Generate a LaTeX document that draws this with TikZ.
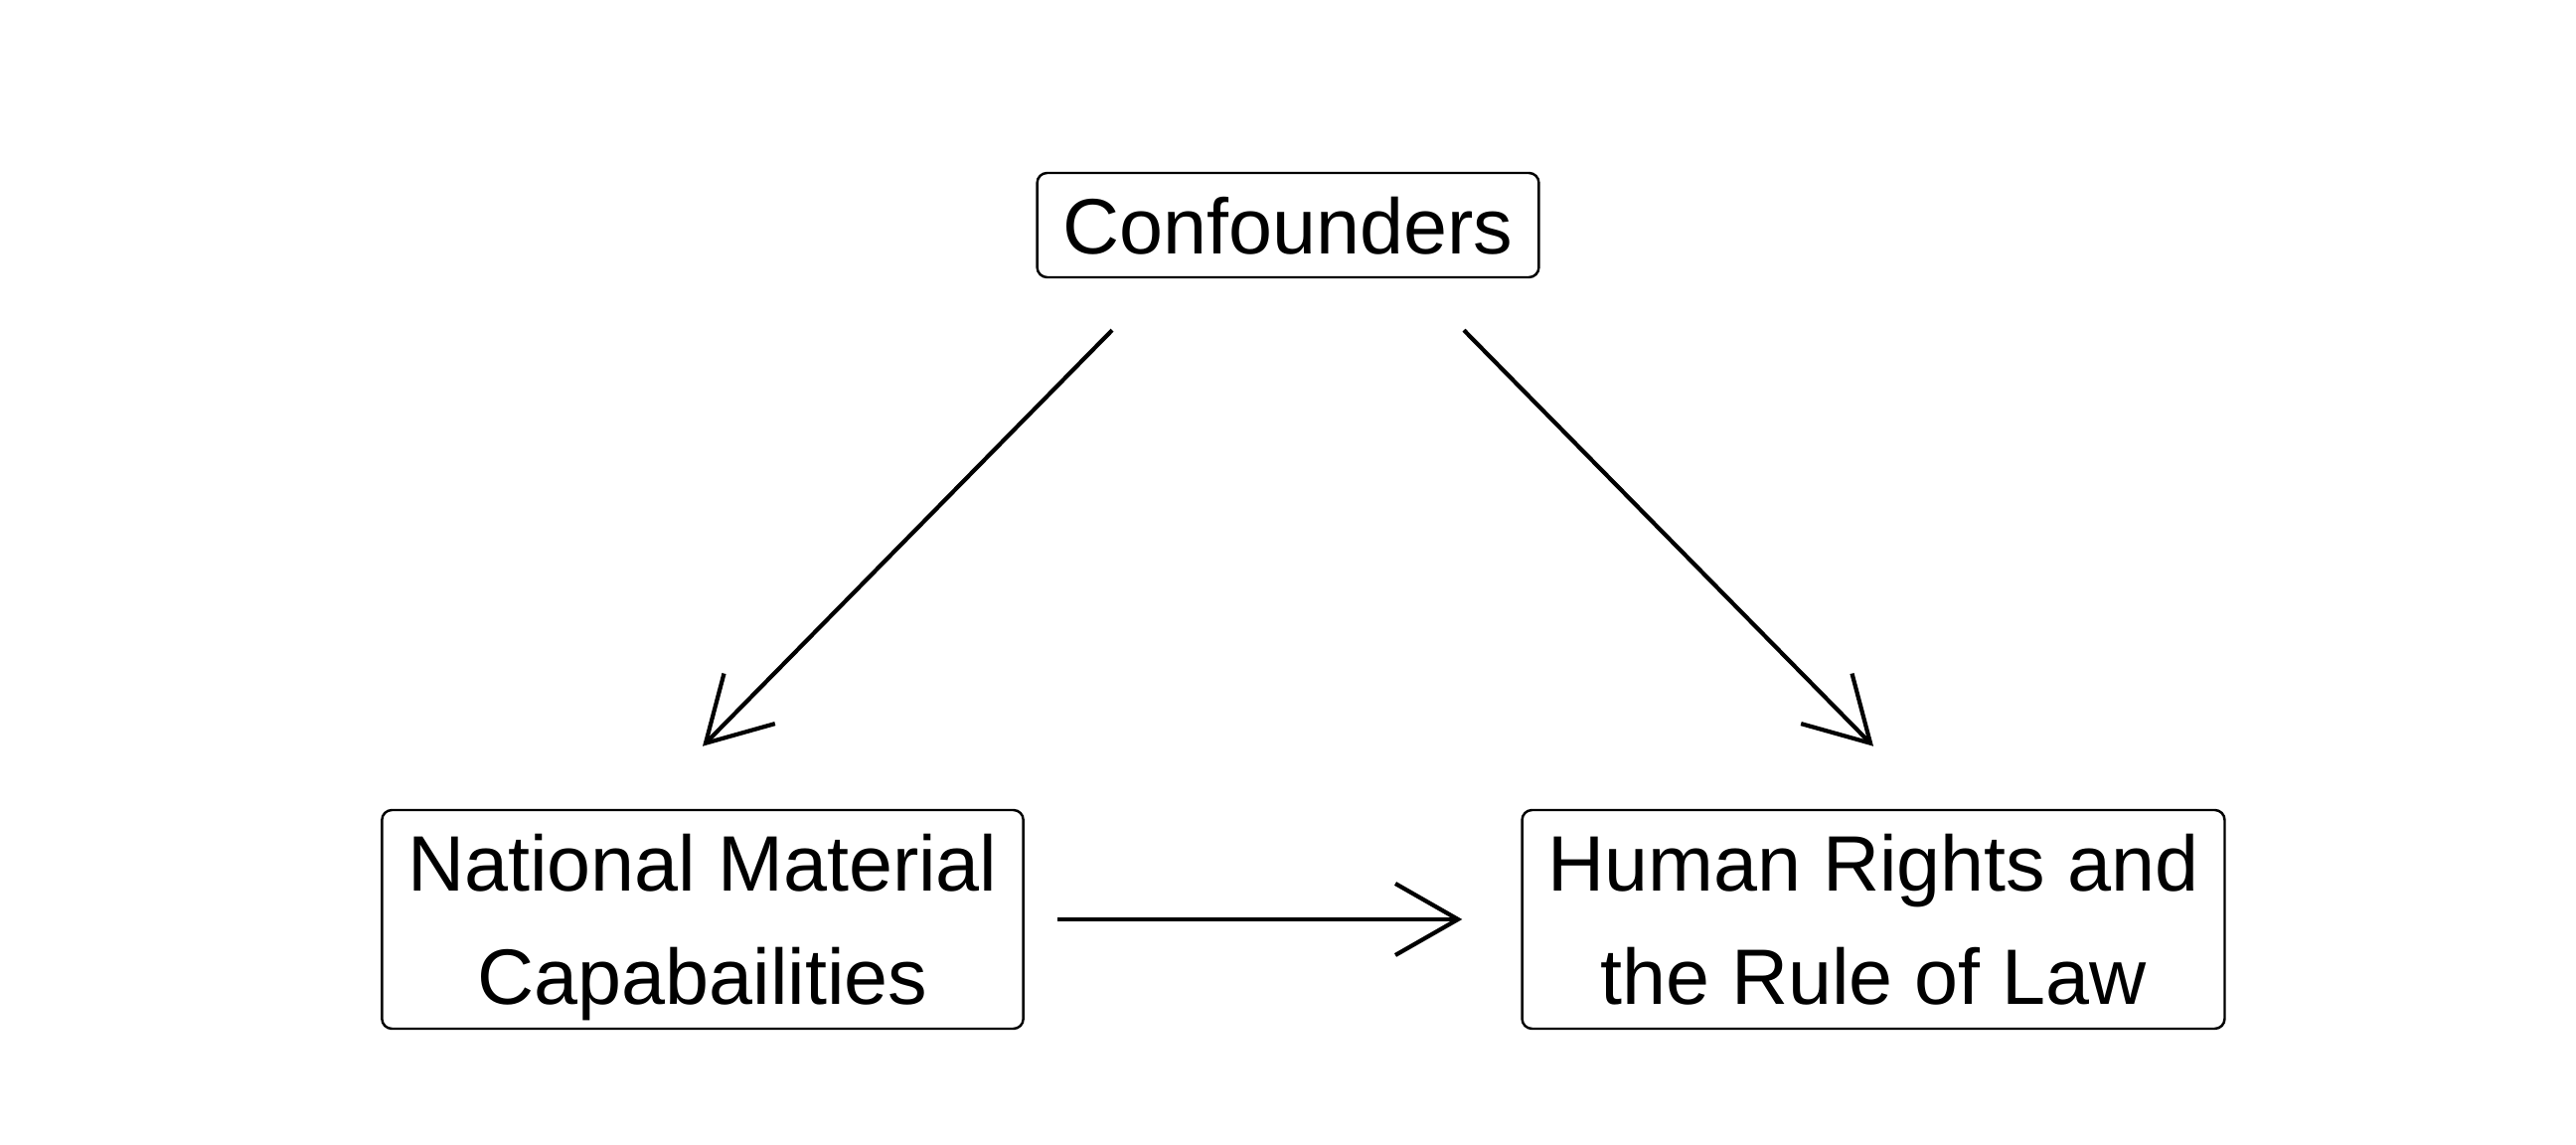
\documentclass[tikz,border=0pt]{standalone}
\usepackage{fontspec}
\setmainfont{Liberation Sans}
\usepackage{tikz}
\usetikzlibrary{calc}
\usetikzlibrary{arrows.meta}
\tikzset{
  var/.style={draw, line width=0.7pt, rounded corners=0.1cm, align=center, inner xsep=0.26cm, text depth=0pt, font=\fontsize{22.5}{32.5}\selectfont},
  cause/.style={line width=1.2pt, -{Straight Barb[length=0.63cm,width=0.72cm,line width=1.2pt]}}
}

\begin{document}
\begin{tikzpicture}
    \useasboundingbox (0,0) rectangle (25.92,11.52);
    % nodes
    \node[var, minimum width=5.01cm, minimum height=1.05cm] (conf) at (12.96,9.255) {Confounders};
    \node[var, minimum width=6.38cm, minimum height=2.2cm] (nmc) at (7.07,2.27) {National Material\\Capabailities};
    \node[var, minimum width=7.05cm, minimum height=2.2cm] (hr) at (18.85,2.27) {Human Rights and\\the Rule of Law};
    % arrows
    \draw[cause] ($(conf.south)+(-1.77,-0.52)$) -- ($(nmc.north)+(0,0.63)$);
    \draw[cause] ($(conf.south)+(1.77,-0.52)$) -- ($(hr.north)+(0,0.63)$);
    \draw[cause] ($(nmc.east)+(0.33,0)$) -- ($(hr.west)+(-0.59,0)$);
\end{tikzpicture}
\end{document}
